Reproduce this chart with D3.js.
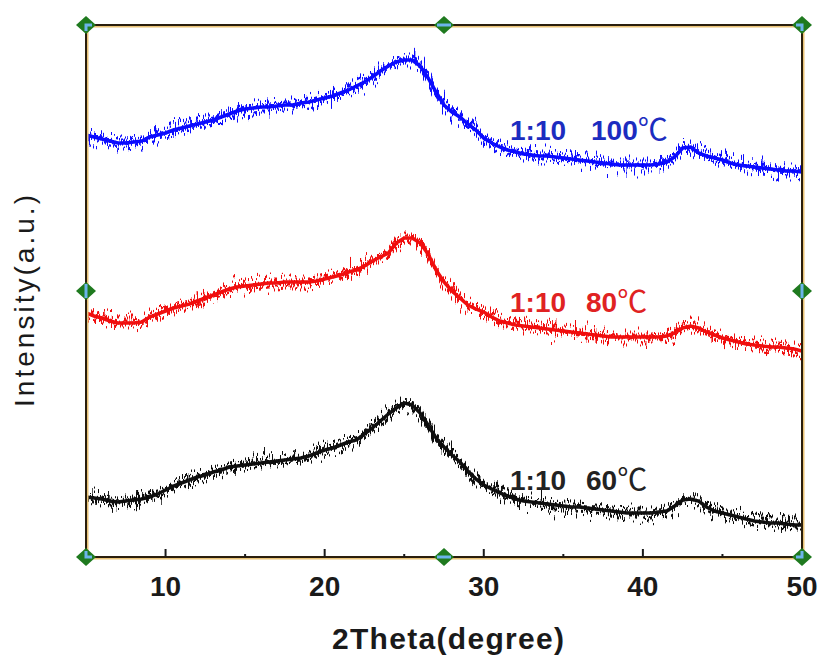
<!DOCTYPE html>
<html lang="en">
<head>
  <meta charset="UTF-8" />
  <title>XRD 1:10</title>
  <style>
    body { margin: 0; padding: 0; background: #fff; }
    svg { display: block; }
    text { font-family: Arial, "Liberation Sans", sans-serif; }
  </style>
</head>
<body>
  <svg id="chart"></svg>

  <script src="https://d3js.org/d3.v7.min.js"></script>
  <script>
    const width = 821, height = 655;

    // 2theta sample points (degree)
    const theta = [5,5.5,6,6.5,7,7.5,8,8.5,9,9.5,10,10.5,11,11.5,12,12.5,13,13.5,14,14.5,
      15,15.5,16,16.5,17,17.5,18,18.5,19,19.5,20,20.5,21,21.5,22,22.5,23,23.5,24,24.5,
      25,25.5,26,26.5,27,27.5,28,28.5,29,29.5,30,30.5,31,31.5,32,32.5,33,33.5,34,34.5,
      35,35.5,36,36.5,37,37.5,38,38.5,39,39.5,40,40.5,41,41.5,42,42.5,43,43.5,44,44.5,
      45,45.5,46,46.5,47,47.5,48,48.5,49,49.5,50];

    // intensities (a.u., stacked as in the figure)
    const i100 = [422,420,418,416,414,414,415,416,420,422,424,427,429,431,433,435,437,440,443,446,
      448,449,450,450,451,452,452,454,455,457,459,461,464,467,471,475,480,486,491,495,
      497,497,491,479,465,452,445,440,433,427,419,414,410,407,405,403,402,401,401,400,
      399,398,397,396,395,394,393,392,392,392,392,392,393,395,400,409,410,404,401,399,
      397,394,392,391,390,389,388,387,386,386,385];
    const i80 = [244,241,239,236,234,234,234,235,240,243,246,249,251,253,256,259,262,265,268,270,
      271,272,273,274,274,275,275,275,275,276,278,280,282,285,287,291,296,300,304,314,
      319,319,314,303,287,275,266,259,252,248,245,240,236,234,232,231,230,229,228,227,
      226,225,224,223,222,221,220,220,220,220,220,220,220,221,224,229,231,229,225,222,
      219,217,215,213,212,211,210,210,209,208,206];
    const i60 = [60,59,58,56,55,56,57,58,60,63,67,71,74,77,80,82,85,87,90,91,
      92,93,94,95,96,97,98,99,101,104,107,109,112,115,117,123,129,136,143,149,
      154,152,144,132,119,110,102,95,86,78,72,68,64,61,58,56,55,54,53,52,
      51,50,50,49,48,47,46,45,44,44,44,44,45,46,51,57,58,56,50,46,
      44,42,40,38,36,35,34,34,33,32,32];

    const seriesNames = ["1:10", "1:10", "1:10"];
    const temps = ["100", "80", "60"];
    const colors = ["#0a0aff", "#f01010", "#111111"];
    const textColors = ["#1c2cc0", "#e02222", "#222222"];
    const series = [i100, i80, i60];
    const xTicks = [10, 20, 30, 40, 50];
    const xMinor = [15, 25, 35, 45];

    const m = { left: 86, right: 802, top: 25, bottom: 557 };

    const x = d3.scaleLinear().domain([5, 50]).range([m.left, m.right]);
    const y = d3.scaleLinear().domain([0, 532]).range([m.bottom, m.top]);

    const svg = d3.select("#chart")
      .attr("width", width)
      .attr("height", height)
      .attr("viewBox", `0 0 ${width} ${height}`);

    const defs = svg.append("defs");
    defs.append("clipPath").attr("id", "plotClip")
      .append("rect")
      .attr("x", m.left).attr("y", m.top)
      .attr("width", m.right - m.left).attr("height", m.bottom - m.top);

    // texture filters: vertical jitter so the traces look like raw counts
    function grain(id, seed, scale) {
      const f = defs.append("filter").attr("id", id)
        .attr("filterUnits", "userSpaceOnUse")
        .attr("x", 0).attr("y", 0).attr("width", width).attr("height", height);
      f.append("feTurbulence")
        .attr("type", "fractalNoise")
        .attr("baseFrequency", "0.7 0.03")
        .attr("numOctaves", 2)
        .attr("seed", seed)
        .attr("result", "noise");
      f.append("feColorMatrix")
        .attr("in", "noise")
        .attr("type", "matrix")
        .attr("values", "0 0 0 0 0.5  0 1 0 0 0  0 0 0 0 0  0 0 0 0 1")
        .attr("result", "dy");
      f.append("feDisplacementMap")
        .attr("in", "SourceGraphic")
        .attr("in2", "dy")
        .attr("scale", scale)
        .attr("xChannelSelector", "R")
        .attr("yChannelSelector", "G");
    }
    grain("grainA", 3, 38);
    grain("grainB", 11, 30);

    // traces
    const line = d3.line()
      .x((d, i) => x(theta[i]))
      .y(d => y(d));

    const plot = svg.append("g").attr("clip-path", "url(#plotClip)");
    series.forEach((s, k) => {
      plot.append("path")
        .datum(s)
        .attr("fill", "none")
        .attr("stroke", colors[k])
        .attr("stroke-width", 3.5)
        .attr("d", line);
      ["grainA", "grainB"].forEach(g => {
        plot.append("path")
          .datum(s)
          .attr("fill", "none")
          .attr("stroke", colors[k])
          .attr("stroke-width", 3)
          .attr("filter", `url(#${g})`)
          .attr("d", line);
      });
    });

    // frame
    svg.append("rect")
      .attr("x", m.left + 1.5).attr("y", m.top + 1.5)
      .attr("width", m.right - m.left).attr("height", m.bottom - m.top)
      .attr("fill", "none")
      .attr("stroke", "#e8c276")
      .attr("stroke-width", 2);
    svg.append("rect")
      .attr("x", m.left).attr("y", m.top)
      .attr("width", m.right - m.left).attr("height", m.bottom - m.top)
      .attr("fill", "none")
      .attr("stroke", "#2a1e0c")
      .attr("stroke-width", 2);

    // ticks (inward)
    svg.selectAll(".major")
      .data(xTicks.filter(t => t < 50))
      .join("line")
      .attr("x1", d => x(d)).attr("x2", d => x(d))
      .attr("y1", m.bottom).attr("y2", m.bottom - 8)
      .attr("stroke", "#1a1a1a")
      .attr("stroke-width", 2);
    svg.selectAll(".minor")
      .data(xMinor)
      .join("line")
      .attr("x1", d => x(d)).attr("x2", d => x(d))
      .attr("y1", m.bottom).attr("y2", m.bottom - 3)
      .attr("stroke", "#1a1a1a")
      .attr("stroke-width", 2);

    // tick labels
    svg.selectAll(".tl")
      .data(xTicks)
      .join("text")
      .attr("x", d => x(d))
      .attr("y", 596)
      .attr("text-anchor", "middle")
      .attr("font-size", 28)
      .attr("font-weight", "bold")
      .attr("fill", "#1a1a1a")
      .text(d => d);

    // selection handles on the frame
    const midX = (m.left + m.right) / 2, midY = (m.top + m.bottom) / 2;
    const handles = [
      [m.left, m.top, "c"], [midX, m.top, "h"], [m.right, m.top, "c"],
      [m.left, midY, "v"], [m.right, midY, "v"],
      [m.left, m.bottom, "c"], [midX, m.bottom, "h"], [m.right, m.bottom, "c"]
    ];
    handles.forEach(([hx, hy, kind]) => {
      svg.append("path")
        .attr("d", `M${hx},${hy - 9}L${hx + 10},${hy}L${hx},${hy + 9}L${hx - 10},${hy}Z`)
        .attr("fill", "#1f7a1f");
      const blue = svg.append("path")
        .attr("fill", "none")
        .attr("stroke", "#6cb4ea")
        .attr("stroke-width", 3);
      if (kind === "h") blue.attr("d", `M${hx - 7},${hy}H${hx + 7}`);
      else if (kind === "v") blue.attr("d", `M${hx},${hy - 7}V${hy + 7}`);
      else {
        const sx = hx === m.left ? 1 : -1, sy = hy === m.top ? 1 : -1;
        blue.attr("d", `M${hx},${hy + 6 * sy}V${hy}H${hx + 6 * sx}`);
      }
    });

    // series labels
    const labelBase = [140, 312, 490];
    series.forEach((s, k) => {
      const t = svg.append("text")
        .attr("y", labelBase[k])
        .attr("font-size", 28)
        .attr("font-weight", "bold")
        .attr("fill", textColors[k]);
      t.append("tspan").attr("x", 510).text(seriesNames[k]);
      t.append("tspan").attr("x", k === 0 ? 591 : 586).text(temps[k]);
      t.append("tspan")
        .attr("font-family", "'Noto Sans CJK SC', 'DejaVu Sans', sans-serif")
        .attr("font-weight", "normal")
        .attr("font-size", 30)
        .text("℃");
    });

    // axis titles
    svg.append("text")
      .attr("x", 448).attr("y", 649)
      .attr("text-anchor", "middle")
      .attr("font-size", 30)
      .attr("font-weight", "bold")
      .attr("fill", "#1a1a1a")
      .attr("textLength", 232)
      .attr("lengthAdjust", "spacing")
      .text("2Theta(degree)");

    svg.append("text")
      .attr("transform", "translate(34,301) rotate(-90)")
      .attr("text-anchor", "middle")
      .attr("font-size", 28)
      .attr("fill", "#1a1a1a")
      .attr("textLength", 212)
      .attr("lengthAdjust", "spacing")
      .text("Intensity(a.u.)");
  </script>
</body>
</html>
